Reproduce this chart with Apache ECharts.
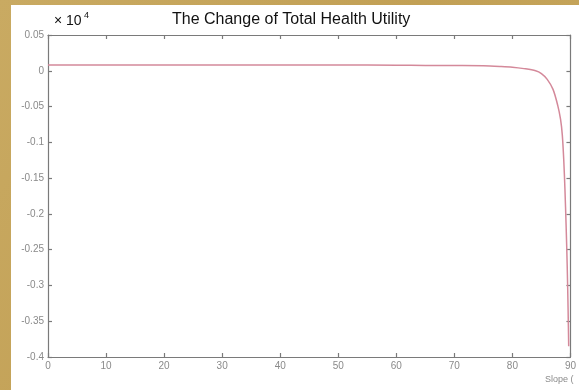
<!DOCTYPE html>
<html>
<head>
<meta charset="utf-8">
<script src="https://cdn.jsdelivr.net/npm/echarts@6/dist/echarts.min.js"></script>
<style>
  html, body { margin: 0; padding: 0; background: #c6a75e; }
  #chart { width: 579px; height: 390px; }
</style>
</head>
<body>
<div id="chart"></div>
<script>
// Slope values (degrees) and the change of total health utility (×10^4)
const slope = [0, 10, 20, 30, 40, 50, 60, 65, 70, 75, 78, 80, 82, 84, 85, 86, 87, 87.8, 88.3, 88.6, 88.85, 89.05, 89.25, 89.45, 89.6, 89.7];
const utility = [0.008, 0.008, 0.008, 0.008, 0.008, 0.008, 0.0078, 0.0075, 0.0073, 0.007, 0.006, 0.005, 0.003, 0.0, -0.004, -0.012, -0.026, -0.048, -0.068, -0.09, -0.125, -0.165, -0.215, -0.275, -0.335, -0.385];
const xTicks = { min: 0, max: 90, step: 10 };
const yTicks = { min: -0.4, max: 0.05, step: 0.05 };

const chart = echarts.init(document.getElementById('chart'), null, { renderer: 'canvas' });

const font = 'Liberation Sans, Arial, sans-serif';
const labelStyle = { color: '#8a8a8a', fontSize: 10, fontFamily: font };
const lineStyle = { color: '#7a7a7a', width: 1.2 };
const fmtY = v => { const r = Math.round(v * 100) / 100; return r === 0 ? '0' : String(r); };

function axisBase(extra) {
  return Object.assign({
    type: 'value',
    axisLine: { show: true, onZero: false, lineStyle },
    axisTick: { show: true, inside: true, length: 4, lineStyle },
    splitLine: { show: false }
  }, extra);
}

chart.setOption({
  backgroundColor: {
    type: 'linear', x: 0, y: 0, x2: 1, y2: 1,
    colorStops: [{ offset: 0, color: '#c9aa62' }, { offset: 0.5, color: '#c2a055' }, { offset: 1, color: '#c7a85f' }]
  },
  animation: false,
  graphic: [
    { type: 'rect', shape: { x: 11, y: 5, width: 568, height: 385 }, style: { fill: '#ffffff' }, z: -10 },
    {
      type: 'text', left: 54, top: 14,
      style: { text: '× 10', fontSize: 14, fontFamily: font, fill: '#111' }
    },
    {
      type: 'text', left: 84, top: 11,
      style: { text: '4', fontSize: 9, fontFamily: font, fill: '#111' }
    },
    {
      type: 'text', left: 172, top: 12,
      style: { text: 'The Change of Total Health Utility', fontSize: 16, fontFamily: font, fill: '#111' }
    },
    {
      type: 'text', left: 545, top: 375,
      style: { text: 'Slope (', fontSize: 9, fontFamily: font, fill: '#8a8a8a' }
    }
  ],
  grid: { left: 48, right: 5, top: 35, bottom: 33, show: false },
  xAxis: [
    axisBase({ min: xTicks.min, max: xTicks.max, interval: xTicks.step, position: 'bottom',
      axisLabel: { ...labelStyle, margin: 4, showMaxLabel: true } }),
    axisBase({ min: xTicks.min, max: xTicks.max, interval: xTicks.step, position: 'top',
      axisLabel: { show: false } })
  ],
  yAxis: [
    axisBase({ min: yTicks.min, max: yTicks.max, interval: yTicks.step, position: 'left',
      axisLabel: { ...labelStyle, margin: 4, formatter: fmtY } }),
    axisBase({ min: yTicks.min, max: yTicks.max, interval: yTicks.step, position: 'right',
      axisLabel: { show: false } })
  ],
  series: [{
    type: 'line',
    data: slope.map((x, i) => [x, utility[i]]),
    smooth: 0.3,
    showSymbol: false,
    lineStyle: { color: '#d4899a', width: 1.5 }
  }]
});
</script>
</body>
</html>
